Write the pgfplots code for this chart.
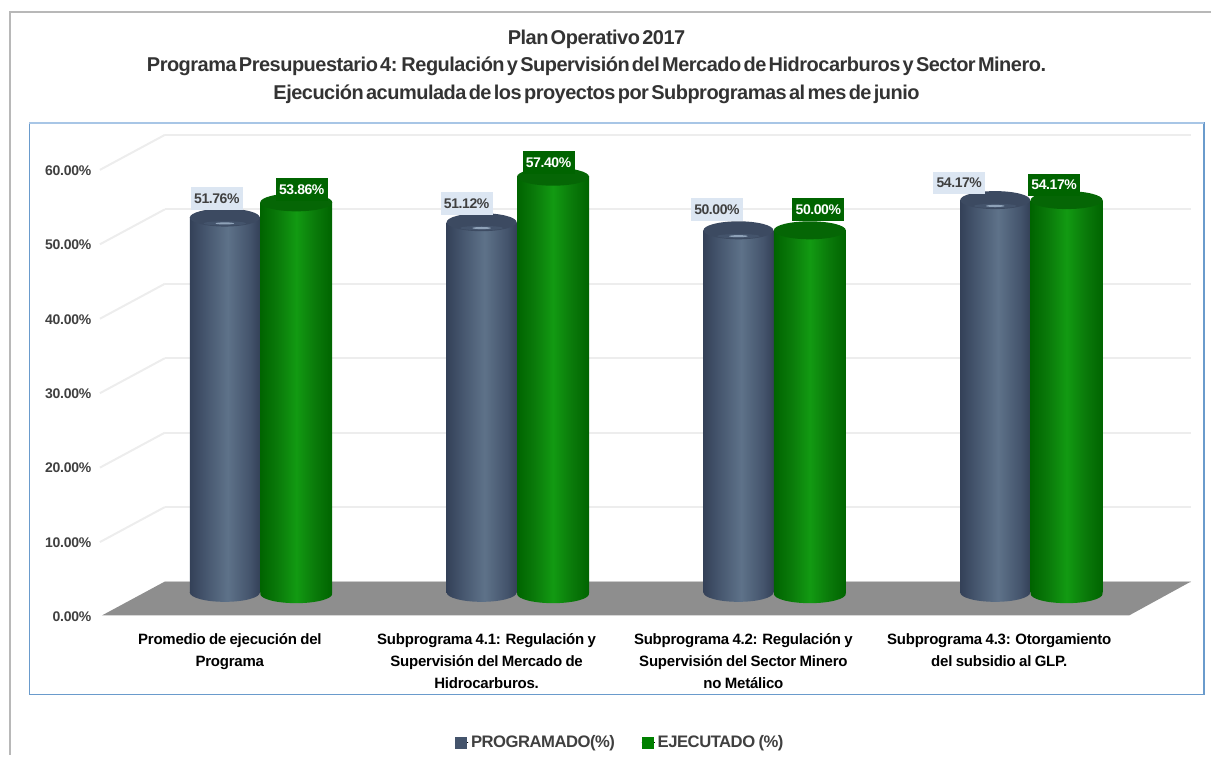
\documentclass[border=0pt]{standalone}
\usepackage{fontspec}
\usepackage{pgfplots}
\usepackage{pgfplotstable}
\pgfplotsset{compat=1.18}
\setmainfont{Liberation Sans}
\newfontfamily\tfont[LetterSpace=-2.5,WordSpace=0.45]{Liberation Sans}
\newfontfamily\cfont[LetterSpace=-1.5,WordSpace=0.85]{Liberation Sans}
\newfontfamily\yfont[LetterSpace=-2.0,WordSpace=0.85]{Liberation Sans}
\newfontfamily\lfont[LetterSpace=-3.0,WordSpace=0.8]{Liberation Sans}
\definecolor{B1}{HTML}{344158}
\definecolor{B2}{HTML}{44546C}
\definecolor{B3}{HTML}{5E7289}
\definecolor{B4}{HTML}{8FA2B8}
\definecolor{BT}{HTML}{3C4A61}
\definecolor{G1}{HTML}{006400}
\definecolor{G2}{HTML}{0A7A0A}
\definecolor{G3}{HTML}{129A12}
\definecolor{GT}{HTML}{056605}
\definecolor{gridc}{HTML}{EDEDED}
\definecolor{floorc}{HTML}{8E8E8E}
\definecolor{txt}{HTML}{404040}
\definecolor{frameb}{HTML}{6A9BCC}
\definecolor{framet}{HTML}{A8C6E6}
\definecolor{lblb}{HTML}{DCE6F2}
\definecolor{legG}{HTML}{008000}
\pgfdeclarehorizontalshading{blueH}{100bp}{color(0bp)=(B1);color(25bp)=(B1);color(35bp)=(B2);color(52bp)=(B3);color(68bp)=(B2);color(75bp)=(B1);color(100bp)=(B1)}
\pgfdeclarehorizontalshading{greenH}{100bp}{color(0bp)=(G1);color(25bp)=(G1);color(37bp)=(G2);color(50bp)=(G3);color(63bp)=(G2);color(75bp)=(G1);color(100bp)=(G1)}
\pgfdeclareplotmark{bluebottom}{\pgfpathellipse{\pgfpointorigin}{\pgfqpoint{26.25pt}{0pt}}{\pgfqpoint{0pt}{7pt}}\pgfshadepath{blueH}{0}\pgfusepath{discard}}
\pgfdeclareplotmark{greenbottom}{\pgfpathellipse{\pgfqpoint{0pt}{-1pt}}{\pgfqpoint{27pt}{0pt}}{\pgfqpoint{0pt}{7pt}}\pgfshadepath{greenH}{0}\pgfusepath{discard}}
\pgfdeclareplotmark{bluetop}{%
  \pgfsetfillcolor{BT}\pgfpathellipse{\pgfpointorigin}{\pgfqpoint{26.25pt}{0pt}}{\pgfqpoint{0pt}{6.75pt}}\pgfusepathqfill
  \pgfsetfillcolor{B2}\pgfpathellipse{\pgfqpoint{0pt}{-4.4pt}}{\pgfqpoint{16pt}{0pt}}{\pgfqpoint{0pt}{1.6pt}}\pgfusepathqfill
  \pgfsetfillcolor{B4}\pgfpathellipse{\pgfqpoint{0pt}{-4.4pt}}{\pgfqpoint{7pt}{0pt}}{\pgfqpoint{0pt}{0.8pt}}\pgfusepathqfill}
\pgfdeclareplotmark{greentop}{%
  \pgfsetfillcolor{GT}\pgfpathellipse{\pgfpointorigin}{\pgfqpoint{27pt}{0pt}}{\pgfqpoint{0pt}{6.75pt}}\pgfusepathqfill}
\pgfplotstableread{
x y dx dy
-0.1381 51.76 -8 19
0.8619 51.12 -15 19
1.8619 50.00 -21.5 21
2.8619 54.17 -36 17
}\prog
\pgfplotstableread{
x y dx dy
0.14 53.86 5.5 13
1.14 57.40 -4.5 14.5
2.14 50.00 8.5 21
3.14 54.17 -12.5 15
}\ejec
\pgfplotsset{
  blue bar/.style={ybar,bar width=52.5pt,bar shift=0pt,draw=none,shade,shading=blueH,forget plot},
  green bar/.style={ybar,bar width=54pt,bar shift=0pt,draw=none,shade,shading=greenH,forget plot},
}
\begin{document}
\begin{tikzpicture}[x=0.75pt,y=0.75pt]
\path (0,0) rectangle (1212,756);
\draw[color=black!28,line width=1.5pt] (1212,744) -- (10.5,744) -- (10.5,0);
\draw[color=frameb,line width=0.9pt] (29.5,633) rectangle (1205,61);
\draw[color=framet,line width=1.4pt] (29.5,633) -- (1205,633);
% titles
\node[font=\tfont\fontsize{15}{18}\bfseries\selectfont,text=black!80] at (597,717) {Plan Operativo 2017};
\node[font=\tfont\fontsize{15}{18}\bfseries\selectfont,text=black!80] at (597,690) {Programa Presupuestario 4: Regulación y Supervisión del Mercado de Hidrocarburos y Sector Minero.};
\node[font=\tfont\fontsize{15}{18}\bfseries\selectfont,text=black!80] at (597,662) {Ejecución acumulada de los proyectos por Subprogramas al mes de junio};
% back wall and floor
\begin{axis}[
  at={(123.75pt,130.5pt)},anchor=south west,scale only axis,width=770.25pt,height=335.25pt,
  xmin=165,xmax=1192,ymin=0,ymax=60,clip=false,
  axis line style={draw=none},xtick=\empty,ytick={0,10,20,30,40,50,60},yticklabels={},
  major tick length=0pt,ymajorgrids,grid style={color=gridc,line width=1.5pt}]
\addplot[line width=1.5pt,color=gridc] coordinates {(165,60)(100,55.3)};
\addplot[line width=1.5pt,color=gridc] coordinates {(165,50)(100,45.3)};
\addplot[line width=1.5pt,color=gridc] coordinates {(165,40)(100,35.3)};
\addplot[line width=1.5pt,color=gridc] coordinates {(165,30)(100,25.3)};
\addplot[line width=1.5pt,color=gridc] coordinates {(165,20)(100,15.3)};
\addplot[line width=1.5pt,color=gridc] coordinates {(165,10)(100,5.3)};
\addplot[fill=floorc,draw=none] coordinates {(102,-4.56)(165,0)(1192,0)(1130,-4.56)};
\end{axis}
% tick labels
\begin{axis}[
  at={(76.5pt,105.75pt)},anchor=south west,scale only axis,width=771pt,height=334.5pt,
  xmin=102,xmax=1130,ymin=0,ymax=60,clip=false,
  axis line style={draw=none},major tick length=0pt,
  ytick={0,10,20,30,40,50,60},
  yticklabels={0.00\%,10.00\%,20.00\%,30.00\%,40.00\%,50.00\%,60.00\%},
  yticklabel style={font=\yfont\fontsize{10.5}{12}\bfseries\selectfont,text=txt,anchor=east,xshift=-4.5pt,yshift=-1.5pt},
  xtick={230,487,744,1000},
  xticklabels={{Promedio de ejecución del\\Programa},{Subprograma 4.1: Regulación y\\Supervisión del Mercado de\\Hidrocarburos.},{Subprograma 4.2: Regulación y\\Supervisión del Sector Minero\\no Metálico},{Subprograma 4.3: Otorgamiento\\del subsidio al GLP.}},
  xticklabel style={font=\cfont\fontsize{11.25}{16.5}\bfseries\selectfont,text=black,align=center,anchor=north,yshift=-10.5pt},
  xtick pos=bottom,ytick pos=left]
\addplot[draw=none,forget plot] coordinates {(230,0)};
\end{axis}
% cylinders
\begin{axis}[
  at={(0pt,0pt)},anchor=south west,scale only axis,width=909pt,height=567pt,
  xmin=-1.01362,xmax=3.7023,ymin=-22.483,ymax=81.793,
  hide axis,clip=false,
  legend columns=2,
  legend style={at={(0.5124,0.0172)},anchor=center,draw=none,fill=none,
    font=\lfont\fontsize{12.5}{14}\bfseries\selectfont,text=txt,
    /tikz/every even column/.append style={column sep=18pt},inner sep=0pt},
  ]
\addplot[only marks,mark=bluebottom,forget plot] table[x=x,y expr=0] {\prog};
\addplot[blue bar] coordinates {(-0.1381,51.76)};
\addplot[blue bar] coordinates {(0.8619,51.12)};
\addplot[blue bar] coordinates {(1.8619,50.00)};
\addplot[blue bar] coordinates {(2.8619,54.17)};
\addplot[only marks,mark=bluetop,point meta=y,
  legend image code/.code={\path (0pt,0pt) rectangle (9.7pt,0pt);\fill[B2] (0pt,-4.3pt) rectangle (8.2pt,3.9pt);},
  visualization depends on={\thisrow{dx} \as \dx},
  visualization depends on={\thisrow{dy} \as \dy},
  nodes near coords={\pgfmathprintnumber[fixed,fixed zerofill,precision=2,assume math mode=true]{\pgfplotspointmeta}\%},
  every node near coord/.append style={anchor=center,xshift={0.75*\dx},yshift={0.75*\dy},
    font=\lfont\fontsize{10.5}{12}\bfseries\selectfont,text=txt,fill=lblb,
    minimum width=39pt,minimum height=17pt,inner sep=0pt}] table[x=x,y=y] {\prog};
\addlegendentry{PROGRAMADO(\%)}
\addplot[only marks,mark=greenbottom,forget plot] table[x=x,y expr=0] {\ejec};
\addplot[green bar] coordinates {(0.14,53.86)};
\addplot[green bar] coordinates {(1.14,57.40)};
\addplot[green bar] coordinates {(2.14,50.00)};
\addplot[green bar] coordinates {(3.14,54.17)};
\addplot[only marks,mark=greentop,point meta=y,
  legend image code/.code={\path (0pt,0pt) rectangle (9.7pt,0pt);\fill[legG] (0pt,-4.3pt) rectangle (8.2pt,3.9pt);},
  visualization depends on={\thisrow{dx} \as \dx},
  visualization depends on={\thisrow{dy} \as \dy},
  nodes near coords={\pgfmathprintnumber[fixed,fixed zerofill,precision=2,assume math mode=true]{\pgfplotspointmeta}\%},
  every node near coord/.append style={anchor=center,xshift={0.75*\dx},yshift={0.75*\dy},
    font=\lfont\fontsize{10.5}{12}\bfseries\selectfont,text=white,fill=G1,
    minimum width=39pt,minimum height=17pt,inner sep=0pt}] table[x=x,y=y] {\ejec};
\addlegendentry{EJECUTADO (\%)}
\end{axis}
\end{tikzpicture}
\end{document}
